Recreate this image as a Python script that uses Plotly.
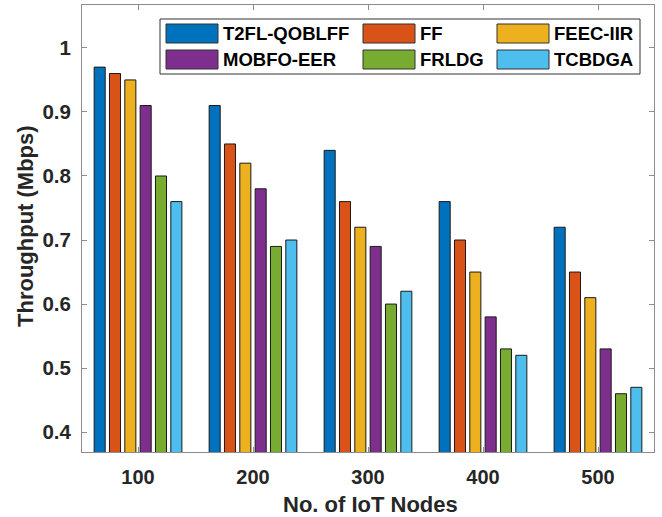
import plotly.graph_objects as go

categories = ["100", "200", "300", "400", "500"]
series_names = ["T2FL-QOBLFF", "FF", "FEEC-IIR", "MOBFO-EER", "FRLDG", "TCBDGA"]
t2fl_qoblff = [0.97, 0.91, 0.84, 0.76, 0.72]
ff = [0.96, 0.85, 0.76, 0.70, 0.65]
feec_iir = [0.95, 0.82, 0.72, 0.65, 0.61]
mobfo_eer = [0.91, 0.78, 0.69, 0.58, 0.53]
frldg = [0.80, 0.69, 0.60, 0.53, 0.46]
tcbdga = [0.76, 0.70, 0.62, 0.52, 0.47]
y_ticks = [0.4, 0.5, 0.6, 0.7, 0.8, 0.9, 1.0]
y_tick_labels = ["0.4", "0.5", "0.6", "0.7", "0.8", "0.9", "1"]

series_values = [t2fl_qoblff, ff, feec_iir, mobfo_eer, frldg, tcbdga]
colors = ["#0072BD", "#D95319", "#EDB120", "#7E2F8E", "#77AC30", "#4DBEEE"]

W, H = 662, 517
L, R, T, B = 82, 8, 5, 65
pw, ph = W - L - R, H - T - B
FONT = "Liberation Sans, Arial, sans-serif"
TXT = "#262626"
AX = "#8c8c8c"

def px_x(x):
    return (x - L) / pw

def px_y(y):
    return 1 - (y - T) / ph

fig = go.Figure()
for name, vals, col in zip(series_names, series_values, colors):
    fig.add_trace(go.Bar(
        x=categories, y=vals, name=name, showlegend=False,
        marker=dict(color=col, line=dict(color="#1a1a1a", width=1)),
    ))

# manual legend (MATLAB style, 3 columns x 2 rows)
shapes = [dict(type="rect", xref="paper", yref="paper",
               x0=px_x(160), x1=px_x(640), y0=px_y(74), y1=px_y(19),
               line=dict(color="#333333", width=1), fillcolor="white", layer="above")]
annotations = []
col_sw = [166, 363, 497]
row_y = [(24, 43), (50, 69)]
for i, (name, col) in enumerate(zip(series_names, colors)):
    r, c = divmod(i, 3)
    y0, y1 = row_y[r]
    xs = col_sw[c]
    shapes.append(dict(type="rect", xref="paper", yref="paper",
                       x0=px_x(xs), x1=px_x(xs + 52), y0=px_y(y1), y1=px_y(y0),
                       fillcolor=col, line=dict(color="#333333", width=1), layer="above"))
    annotations.append(dict(xref="paper", yref="paper", x=px_x(xs + 55), y=px_y((y0 + y1) / 2 + 0.5),
                            xanchor="left", yanchor="middle", showarrow=False,
                            text="<b>%s</b>" % name,
                            font=dict(family=FONT, size=18.5, color="#000000")))

# axis titles as annotations for exact placement
annotations.append(dict(xref="paper", yref="paper", x=px_x((L + W - R) / 2 + 2), y=px_y(504),
                        xanchor="center", yanchor="middle", showarrow=False,
                        text="<b>No. of IoT Nodes</b>", font=dict(family=FONT, size=22, color=TXT)))
annotations.append(dict(xref="paper", yref="paper", x=px_x(25), y=px_y(226),
                        xanchor="center", yanchor="middle", showarrow=False, textangle=-90,
                        text="<b>Throughput (Mbps)</b>", font=dict(family=FONT, size=22, color=TXT)))

fig.update_layout(
    width=W, height=H,
    margin=dict(l=L, r=R, t=T, b=B, autoexpand=False),
    paper_bgcolor="white", plot_bgcolor="white",
    barmode="group", bargap=0.2, bargroupgap=0.28,
    font=dict(family=FONT, color=TXT),
    shapes=shapes, annotations=annotations,
    showlegend=False,
)
fig.update_xaxes(
    type="category", range=[-0.487, 4.487], automargin=False,
    tickvals=categories, ticktext=["<b>%s</b>" % c for c in categories],
    showline=True, linecolor=AX, linewidth=1, mirror="ticks",
    ticks="inside", ticklen=5, tickcolor=AX, tickwidth=1,
    tickfont=dict(family=FONT, size=20, color=TXT),
    ticklabelstandoff=7,
    showgrid=False, zeroline=False,
)
fig.update_yaxes(
    range=[0.369, 1.067], automargin=False,
    tickvals=y_ticks, ticktext=["<b>%s</b>" % t for t in y_tick_labels],
    showline=True, linecolor=AX, linewidth=1, mirror="ticks",
    ticks="inside", ticklen=5, tickcolor=AX, tickwidth=1,
    tickfont=dict(family=FONT, size=20.5, color=TXT),
    ticklabelstandoff=6,
    showgrid=False, zeroline=False,
)

fig.write_html(
    "out.html",
    config={"displayModeBar": False},
    post_script="document.body.style.margin='0';document.body.style.overflow='hidden';",
)
